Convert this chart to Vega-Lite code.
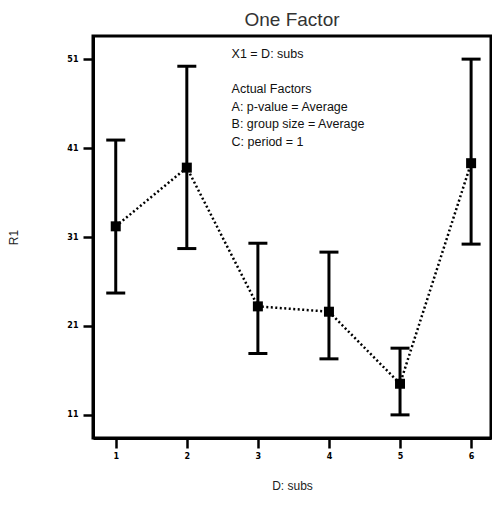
{
  "$schema": "https://vega.github.io/schema/vega-lite/v6.json",
  "width": 398,
  "height": 402,
  "autosize": {"type": "none"},
  "padding": {"left": 93, "top": 36, "right": 1, "bottom": 86},
  "background": "white",
  "title": {"text": "One Factor", "fontSize": 19, "fontWeight": "normal", "font": "Liberation Sans", "color": "#333333", "anchor": "middle", "offset": 6},
  "config": {
    "view": {"stroke": "black", "strokeWidth": 3},
    "axis": {"grid": false, "domainColor": "black", "domainWidth": 3, "tickColor": "black", "tickWidth": 2.5, "tickSize": 10, "labelFont": "DejaVu Sans", "labelFontSize": 8, "labelFontWeight": "bold", "labelColor": "black", "titleFont": "Liberation Sans", "titleFontSize": 12, "titleFontWeight": "normal", "titleColor": "#222222"}
  },
  "data": {"values": [
    {"subs": 1, "R1": 32.2, "lo": 24.7, "hi": 41.9},
    {"subs": 2, "R1": 38.8, "lo": 29.7, "hi": 50.2},
    {"subs": 3, "R1": 23.2, "lo": 17.9, "hi": 30.3},
    {"subs": 4, "R1": 22.6, "lo": 17.3, "hi": 29.3},
    {"subs": 5, "R1": 14.5, "lo": 11.0, "hi": 18.5},
    {"subs": 6, "R1": 39.3, "lo": 30.2, "hi": 51.0}
  ]},
  "layer": [
    {
      "mark": {"type": "rule", "color": "black", "strokeWidth": 3},
      "encoding": {
        "x": {"field": "subs", "type": "quantitative", "scale": {"domain": [0.68, 6.28], "nice": false, "zero": false},
              "axis": {"values": [1, 2, 3, 4, 5, 6], "format": "d", "title": "D: subs", "titlePadding": 20, "labelPadding": 4}},
        "y": {"field": "lo", "type": "quantitative", "scale": {"domain": [8.4, 53.6], "nice": false, "zero": false},
              "axis": {"values": [11, 21, 31, 41, 51], "format": "d", "title": "R1", "titlePadding": 46, "labelPadding": 5}},
        "y2": {"field": "hi"}
      }
    },
    {
      "mark": {"type": "tick", "orient": "horizontal", "color": "black", "size": 19, "thickness": 3, "opacity": 1},
      "encoding": {
        "x": {"field": "subs", "type": "quantitative"},
        "y": {"field": "lo", "type": "quantitative"}
      }
    },
    {
      "mark": {"type": "tick", "orient": "horizontal", "color": "black", "size": 19, "thickness": 3, "opacity": 1},
      "encoding": {
        "x": {"field": "subs", "type": "quantitative"},
        "y": {"field": "hi", "type": "quantitative"}
      }
    },
    {
      "mark": {"type": "line", "color": "black", "strokeWidth": 2.5, "strokeDash": [2, 2.5]},
      "encoding": {
        "x": {"field": "subs", "type": "quantitative"},
        "y": {"field": "R1", "type": "quantitative"}
      }
    },
    {
      "mark": {"type": "square", "color": "black", "filled": true, "size": 100, "opacity": 1},
      "encoding": {
        "x": {"field": "subs", "type": "quantitative"},
        "y": {"field": "R1", "type": "quantitative"}
      }
    },
    {
      "data": {"values": [{"note": "X1 = D: subs"}]},
      "mark": {"type": "text", "align": "left", "baseline": "top", "font": "Liberation Sans", "fontSize": 12.5, "fontWeight": "normal", "color": "#111111"},
      "encoding": {
        "x": {"datum": 2.63, "type": "quantitative"},
        "y": {"datum": 52.2, "type": "quantitative"},
        "text": {"field": "note"}
      }
    },
    {
      "data": {"values": [{"note": ["Actual Factors", "A: p-value = Average", "B: group size = Average", "C: period = 1"]}]},
      "mark": {"type": "text", "align": "left", "baseline": "top", "font": "Liberation Sans", "fontSize": 12.5, "fontWeight": "normal", "lineHeight": 17.5, "color": "#111111"},
      "encoding": {
        "x": {"datum": 2.63, "type": "quantitative"},
        "y": {"datum": 48.3, "type": "quantitative"},
        "text": {"field": "note"}
      }
    }
  ]
}
